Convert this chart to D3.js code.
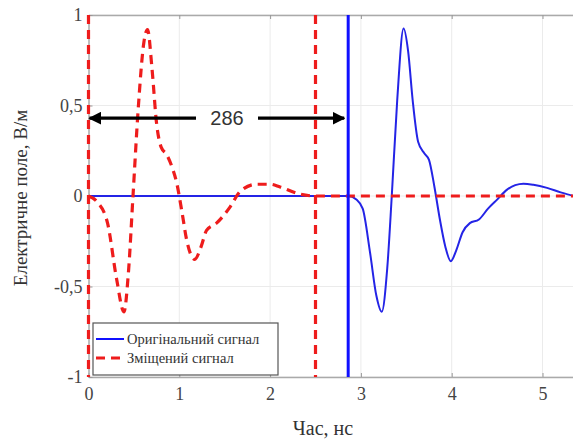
<!DOCTYPE html>
<html><head><meta charset="utf-8">
<script src="https://cdn.jsdelivr.net/npm/d3@7"></script>
<style>text.sf{font-family:"Liberation Serif","Times New Roman",serif !important;}</style>
</head><body style="margin:0">
<script>
const xTicks = [0, 1, 2, 3, 4, 5];
const yTicks = [-1, -0.5, 0, 0.5, 1];
const yTickLabels = ["-1", "-0,5", "0", "0,5", "1"];
const origT = [0, 2.86, 2.95, 3.02, 3.10, 3.17, 3.23, 3.29, 3.34, 3.40, 3.47, 3.52, 3.57, 3.63, 3.70, 3.75, 3.81, 3.87, 3.93, 3.99, 4.05, 4.12, 4.20, 4.30, 4.40, 4.50, 4.61, 4.70, 4.79, 4.90, 5.05, 5.20, 5.35, 5.5];
const origV = [0, 0, -0.02, -0.07, -0.31, -0.55, -0.64, -0.40, 0.0, 0.53, 0.925, 0.80, 0.53, 0.30, 0.235, 0.20, 0.05, -0.13, -0.28, -0.36, -0.30, -0.20, -0.15, -0.13, -0.07, -0.02, 0.035, 0.06, 0.068, 0.062, 0.045, 0.02, 0.0, -0.01];
const shiftT = [0, 0.10, 0.21, 0.31, 0.39, 0.44, 0.49, 0.55, 0.61, 0.65, 0.70, 0.75, 0.80, 0.86, 0.92, 0.97, 1.03, 1.08, 1.17, 1.24, 1.30, 1.41, 1.56, 1.67, 1.85, 2.00, 2.11, 2.33, 2.50, 5.5];
const shiftV = [0, -0.035, -0.15, -0.46, -0.64, -0.42, 0.0, 0.50, 0.85, 0.92, 0.70, 0.40, 0.27, 0.23, 0.16, 0.075, -0.09, -0.24, -0.35, -0.28, -0.19, -0.15, -0.06, 0.025, 0.065, 0.065, 0.05, 0.01, 0, 0];
const shiftMarkers = [0, 2.5];
const origMarker = 2.86;
const delayLabel = "286";
const arrowY = 0.43;
const legendLabels = ["Оригінальний сигнал", "Зміщений сигнал"];

const W = 573, H = 441;
const SERIF = "Liberation Serif";
const x = d3.scaleLinear().domain([0, 5.5]).range([88.5, 88.5 + 5.5 * 90.8]);
const y = d3.scaleLinear().domain([-1, 1]).range([377, 15]);
const svg = d3.select("body").append("svg").attr("width", W).attr("height", H)
  .style("display", "block").attr("font-family", SERIF);

// grid
const g = svg.append("g");
g.selectAll(".gx").data(xTicks.slice(1)).join("line")
  .attr("x1", d => x(d)).attr("x2", d => x(d)).attr("y1", y(1)).attr("y2", y(-1))
  .attr("stroke", "#ebebeb").attr("stroke-width", 1);
g.selectAll(".gy").data(yTicks).join("line")
  .attr("x1", x(0)).attr("x2", W).attr("y1", d => y(d)).attr("y2", d => y(d))
  .attr("stroke", "#ebebeb").attr("stroke-width", 1);

// axes
const xAxis = svg.append("g").attr("transform", `translate(0,${y(-1)})`)
  .call(d3.axisBottom(x).tickValues(xTicks).tickSizeInner(-4).tickSizeOuter(0).tickPadding(10).tickFormat(d3.format("d")));
xAxis.attr("font-family", SERIF).attr("font-size", 18);
xAxis.select(".domain").attr("stroke", "#aaa").attr("stroke-width", 1.5);
xAxis.selectAll(".tick line").attr("stroke", "#999");
xAxis.selectAll("text").attr("class", "sf").attr("font-family", SERIF).attr("font-size", 18).attr("fill", "#444");
const xTop = svg.append("g").attr("transform", `translate(0,${y(1)})`)
  .call(d3.axisTop(x).tickValues(xTicks).tickSizeInner(-4).tickSizeOuter(0).tickFormat(""));
xTop.select(".domain").attr("stroke", "#aaa").attr("stroke-width", 1.5);
xTop.selectAll(".tick line").attr("stroke", "#999");
const yAxis = svg.append("g").attr("transform", `translate(${x(0)},0)`)
  .call(d3.axisLeft(y).tickValues(yTicks).tickSizeInner(-4).tickSizeOuter(0).tickPadding(6)
    .tickFormat((d, i) => yTickLabels[i]));
yAxis.attr("font-family", SERIF).attr("font-size", 18);
yAxis.select(".domain").attr("stroke", "#aaa").attr("stroke-width", 1.5);
yAxis.selectAll(".tick line").attr("stroke", "#999");
yAxis.selectAll("text").attr("class", "sf").attr("font-family", SERIF).attr("font-size", 18).attr("fill", "#444");

svg.append("text").attr("class", "sf").attr("font-family", SERIF).attr("font-size", 20)
  .attr("x", 323).attr("y", 435).attr("text-anchor", "middle").attr("fill", "#333").text("Час, нс");
svg.append("text").attr("class", "sf").attr("font-family", SERIF).attr("font-size", 19)
  .attr("transform", "translate(27,198) rotate(-90)").attr("text-anchor", "middle")
  .attr("fill", "#333").text("Електричне поле, В/м");

const line = d3.line().x(d => x(d[0])).y(d => y(d[1])).curve(d3.curveMonotoneX);
const plot = svg.append("g");
plot.append("path").datum(d3.zip(origT, origV)).attr("d", line)
  .attr("fill", "none").attr("stroke", "#2424e6").attr("stroke-width", 2);
plot.append("path").datum(d3.zip(shiftT, shiftV)).attr("d", line)
  .attr("fill", "none").attr("stroke", "#ee1c1c").attr("stroke-width", 3.2).attr("stroke-dasharray", "9,6");
plot.selectAll(".vr").data(shiftMarkers).join("line")
  .attr("x1", d => x(d)).attr("x2", d => x(d)).attr("y1", y(1)).attr("y2", y(-1))
  .attr("stroke", "#ee1c1c").attr("stroke-width", 3.2).attr("stroke-dasharray", "9,6");
plot.append("line").attr("x1", x(origMarker)).attr("x2", x(origMarker)).attr("y1", y(1)).attr("y2", y(-1))
  .attr("stroke", "#1010ff").attr("stroke-width", 3);

// arrows
const defs = svg.append("defs");
defs.append("marker").attr("id", "ah").attr("viewBox", "0 0 10 10").attr("refX", 9).attr("refY", 5)
  .attr("markerWidth", 4).attr("markerHeight", 4).attr("orient", "auto-start-reverse")
  .append("path").attr("d", "M0,0 L10,5 L0,10 z").attr("fill", "#000");
const ay = y(arrowY);
svg.append("line").attr("x1", 196).attr("x2", x(0) + 1).attr("y1", ay).attr("y2", ay)
  .attr("stroke", "#000").attr("stroke-width", 3.2).attr("marker-end", "url(#ah)");
svg.append("line").attr("x1", 258).attr("x2", x(origMarker) - 4).attr("y1", ay).attr("y2", ay)
  .attr("stroke", "#000").attr("stroke-width", 3.2).attr("marker-end", "url(#ah)");
svg.append("text").attr("font-family", "Liberation Sans").attr("font-size", 20)
  .attr("x", 227).attr("y", ay + 7).attr("text-anchor", "middle").attr("fill", "#333").text(delayLabel);

// legend
const lg = svg.append("g");
lg.append("rect").attr("x", 93).attr("y", 323).attr("width", 185).attr("height", 52)
  .attr("fill", "#fff").attr("stroke", "#555").attr("stroke-width", 1.2);
const styles = [{c: "#1010ff", w: 2, da: null}, {c: "#ee1c1c", w: 3.2, da: "9,6"}];
legendLabels.forEach((lab, i) => {
  const ly = 339 + i * 19;
  lg.append("line").attr("x1", 96).attr("x2", 124).attr("y1", ly).attr("y2", ly)
    .attr("stroke", styles[i].c).attr("stroke-width", styles[i].w).attr("stroke-dasharray", styles[i].da);
  lg.append("text").attr("class", "sf").attr("font-family", SERIF).attr("font-size", 14.5)
    .attr("x", 127).attr("y", ly + 5).attr("fill", "#333").text(lab);
});
</script>
</body></html>
